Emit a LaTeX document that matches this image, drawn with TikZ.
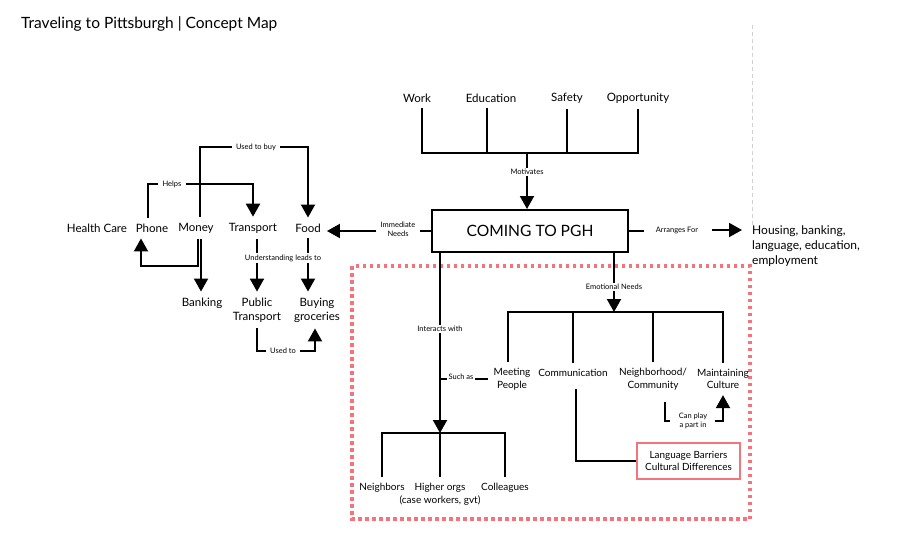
\documentclass[tikz,border=0pt]{standalone}
\usepackage{fontspec}
\setmainfont{Lato}
\usetikzlibrary{arrows.meta,calc}
\definecolor{pinkred}{HTML}{F7737B}
\definecolor{guidegrey}{HTML}{D2D2D2}
\begin{document}
\begin{tikzpicture}[x=1pt,y=-1pt,
  lab/.style={font=\fontsize{11.5}{14}\selectfont, align=center, inner xsep=6pt, inner ysep=6pt},
  inlab/.style={lab, font=\fontsize{10}{12.5}\selectfont},
  small/.style={font=\fontsize{7.5}{9}\selectfont, align=center, inner xsep=4pt, inner ysep=1pt},
  conn/.style={line width=2pt},
  arr/.style={conn, -{Triangle[width=14pt,length=13pt]}},
]
\useasboundingbox[fill=white] (0,0) rectangle (923,536);
\node[anchor=west, font=\fontsize{15.5}{17}\selectfont, inner sep=0pt] (title) at (21,24) {Traveling to Pittsburgh | Concept Map};

% guide line and emotional-needs frame
\draw[guidegrey, line width=1pt, dash pattern=on 4pt off 3pt] (752,25) -- (752,225);
\draw[pinkred, line width=3.5pt, dash pattern=on 3.5pt off 3.5pt] (352,266) rectangle (750,519);

% central box
\node[draw, line width=2pt, minimum width=196pt, minimum height=42pt, inner sep=0pt,
      font=\fontsize{15.6}{18}\selectfont] (pgh) at (530,231) {COMING TO PGH};

% motivations
\node[lab] (work) at (417,98) {Work};
\node[lab] (edu) at (491,98) {Education};
\node[lab] (safety) at (567,98) {Safety};
\node[lab] (opp) at (638,98) {Opportunity};
\coordinate (bar) at (527,153);
\draw[conn] ([xshift=5pt]work.south) -- ([xshift=5pt]work.south |- bar) -- (opp.south |- bar) -- (opp.south);
\draw[conn] ([xshift=-4pt]edu.south) -- ([xshift=-4pt]edu.south |- bar);
\draw[conn] (safety.south) -- (safety.south |- bar);
\node[small] (motiv) at (527,172) {Motivates};
\draw[conn] (bar) -- (motiv.north);
\draw[arr] (motiv.south) -- (motiv.south |- pgh.north);

% immediate needs cluster
\node[lab] (health) at (97,228) {Health Care};
\node[lab] (phone) at (152,228) {Phone};
\node[lab] (money) at (196,228) {Money};
\node[lab] (transport) at (253,228) {Transport};
\node[lab] (food) at (308,228) {Food};
\node[lab] (banking) at (202,303) {Banking};
\node[lab] (ptrans) at (257,310) {Public\\Transport};
\node[lab] (groc) at (317,310) {Buying\\groceries};

\node[small] (imm) at (398,229) {Immediate\\Needs};
\draw[conn] (pgh.west) -- (pgh.west -| imm.east);
\draw[arr] (imm.west |- pgh.west) -- (food.east |- pgh.west);

\node[small] (usedbuy) at (256,147) {Used to buy};
\draw[conn] ([xshift=4pt]money.north) |- (usedbuy.west);
\draw[arr] (usedbuy.east) -| (food.north);

\node[small] (helps) at (172,184) {Helps};
\draw[conn] ([xshift=-4pt]phone.north) |- (helps.west);
\draw[arr] (helps.east) -| (transport.north);

\coordinate (mpbend) at (141,266);
\draw[arr] ([xshift=2pt]money.south) |- (mpbend) -- (mpbend |- phone.south);
\draw[arr] ([xshift=5pt]money.south) -- ([xshift=5pt]money.south |- banking.north);

\node[small] (und) at (283,258) {Understanding leads to};
\draw[conn] (ptrans.north |- transport.south) -- (ptrans.north |- und.north);
\draw[arr] (ptrans.north |- und.south) -- (ptrans.north);
\draw[conn] (food.south) -- (food.south |- und.north);
\draw[arr] (food.south |- und.south) -- (food.south |- groc.north);

\node[small] (usedto) at (283,351) {Used to};
\draw[conn] (ptrans.south) |- (usedto.west);
\draw[arr] (usedto.east) -| ([xshift=-2pt]groc.south);

% arranges for
\node[lab, anchor=north west, align=left, inner sep=0pt, font=\fontsize{12}{15}\selectfont] (housing) at (752,225) {Housing, banking,\\language, education,\\employment};
\node[small] (arranges) at (677,230) {Arranges For};
\draw[conn] (pgh.east) -- ++(15,0);
\draw[arr] ([xshift=10pt]arranges.east) -- ([xshift=-10pt]housing.west |- arranges.east);

% interacts with
\node[small] (inter) at (440,329) {Interacts with};
\draw[conn] (inter.north |- pgh.south) -- (inter.north);
\coordinate (lowbar) at (440,433);
\draw[arr] (inter.south) -- (lowbar);
\node[inlab] (neighbors) at (382,488) {Neighbors};
\node[inlab] (higher) at (440,494) {Higher orgs\\(case workers, gvt)};
\node[inlab] (colleagues) at (505,488) {Colleagues};
\draw[conn] (neighbors.north) -- (neighbors.north |- lowbar) -- (colleagues.north |- lowbar) -- (colleagues.north);
\draw[conn] (lowbar) -- (higher.north);

% emotional needs
\node[small] (emo) at (614,287) {Emotional Needs};
\draw[conn] (emo.north |- pgh.south) -- (emo.north);
\coordinate (emobar) at (614,312);
\draw[arr] (emo.south) -- (emobar);
\node[inlab] (meeting) at (512,379) {Meeting\\People};
\node[inlab] (comm) at (573,373) {Communication};
\node[inlab] (neigh) at (653,379) {Neighborhood/\\Community};
\node[inlab] (maint) at (723,379) {Maintaining\\Culture};
\draw[conn] ([xshift=-4pt]meeting.north) -- ([xshift=-4pt]meeting.north |- emobar) -- (maint.north |- emobar) -- (maint.north);
\draw[conn] (comm.north) -- (comm.north |- emobar);
\draw[conn] (neigh.north) -- (neigh.north |- emobar);

\draw[conn] (meeting.west) -- (meeting.west -| inter.south);
\node[small, fill=white, inner xsep=2pt] (such) at (461,377) {Such as};

\node[draw=pinkred, line width=2pt, minimum width=103pt, minimum height=36pt, inner sep=0pt,
      align=center, font=\fontsize{9.9}{12.5}\selectfont] (lang) at (688.5,461) {Language Barriers\\Cultural Differences};
\draw[conn] ([xshift=3pt,yshift=-6pt]comm.south) |- (lang.west);

\node[small] (canplay) at (693,421) {Can play\\a part in};
\draw[conn] ([xshift=12pt,yshift=-6pt]neigh.south) |- ([xshift=-5pt]canplay.west);
\draw[arr] ([xshift=4pt]canplay.east) -| (maint.south);
\end{tikzpicture}
\end{document}
